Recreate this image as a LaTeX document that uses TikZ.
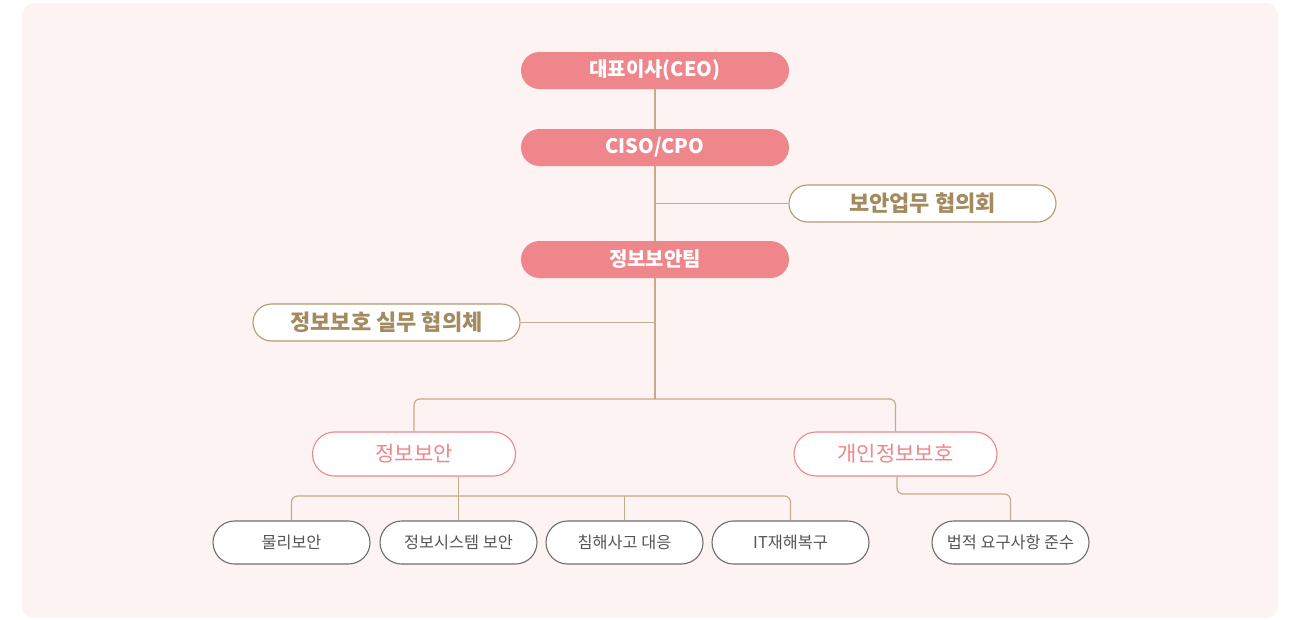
\documentclass[tikz,border=0pt]{standalone}
\usepackage{fontspec}
\setmainfont{Noto Sans CJK KR}
\usetikzlibrary{shapes.misc}
\definecolor{panel}{HTML}{FDF3F2}
\definecolor{rose}{HTML}{EE868C}
\definecolor{tanline}{HTML}{C2AC8C}
\definecolor{tanbox}{HTML}{B19B72}
\definecolor{tantext}{HTML}{A38B5F}
\definecolor{grayline}{HTML}{6E6E6E}
\definecolor{graytext}{HTML}{555555}
\tikzset{
  topbox/.style={rounded rectangle, fill=rose, draw=none, minimum width=268pt, minimum height=37pt, inner sep=0pt, text=white, font=\fontsize{20}{24}\selectfont\bfseries},
  tanbox/.style={rounded rectangle, fill=white, draw=tanbox, line width=1.1pt, minimum width=267pt, minimum height=37pt, inner sep=0pt, text=tantext, font=\fontsize{22}{26}\selectfont\bfseries},
  midbox/.style={rounded rectangle, fill=white, draw=rose, line width=1.1pt, minimum width=203pt, minimum height=44pt, inner sep=0pt, text=rose, font=\fontsize{21}{25}\selectfont},
  lowbox/.style={rounded rectangle, fill=white, draw=grayline, line width=1.1pt, minimum width=157pt, minimum height=43pt, inner sep=0pt, text=graytext, font=\fontsize{16.3}{19}\selectfont},
  conn/.style={draw=tanline, line width=1.2pt},
  rconn/.style={conn, rounded corners=6pt}
}
\begin{document}
\begin{tikzpicture}[x=1pt,y=-1pt]
\useasboundingbox (0,0) rectangle (1296,619);
\fill[panel, rounded corners=12pt] (22,3) rectangle (1278,618);

\node[topbox] (ceo) at (655,70.5) {대표이사(CEO)};
\node[topbox] (ciso) at (655,147.5) {CISO/CPO};
\node[tanbox] (council) at (922.5,203.5) {보안업무 협의회};
\node[topbox] (team) at (655,259.5) {정보보안팀};
\node[tanbox] (work) at (386.5,322.5) {정보보호 실무 협의체};
\node[midbox] (sec) at (414,454) {정보보안};
\node[midbox] (priv) at (895.5,454) {개인정보보호};
\node[lowbox] (b1) at (291.5,542.5) {물리보안};
\node[lowbox] (b2) at (458.5,542.5) {정보시스템 보안};
\node[lowbox] (b3) at (624.5,542.5) {침해사고 대응};
\node[lowbox] (b4) at (790.5,542.5) {IT재해복구};
\node[lowbox] (law) at (1010.5,542.5) {법적 요구사항 준수};

\coordinate (split) at (655,399);
\coordinate (secb) at (458.5,496);
\coordinate (privb) at (897,494);

\draw[conn] (ceo.south) -- (ciso.north);
\draw[conn] (ciso.south) -- (team.north);
\draw[conn] (ciso.south |- council.west) -- (council.west);
\draw[conn] (team.south) -- (split);
\draw[conn] (team.south |- work.east) -- (work.east);
\draw[rconn] (split) -| (sec.north);
\draw[rconn] (split) -| (priv.north);
\draw[conn] (secb |- sec.south) -- (secb);
\draw[rconn] (b1.north) |- (secb) -| (b4.north);
\draw[conn] (secb) -- (b2.north);
\draw[conn] (b3.north |- secb) -- (b3.north);
\draw[rconn] (privb |- priv.south) -- (privb) -| (law.north);
\end{tikzpicture}
\end{document}
